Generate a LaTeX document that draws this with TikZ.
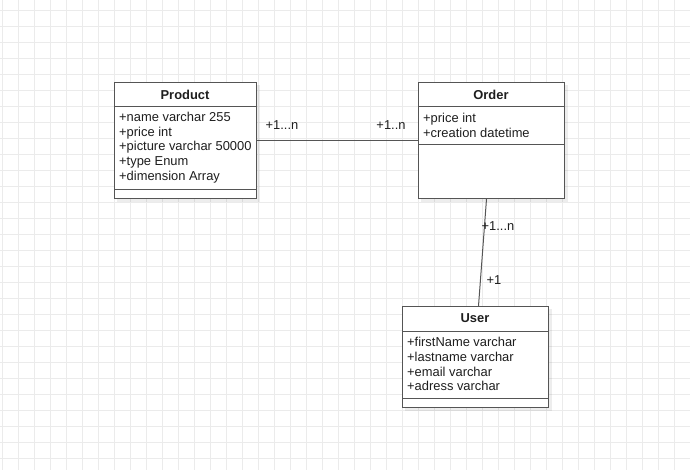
\documentclass[tikz,border=0pt]{standalone}
\usepackage{fontspec}
\setmainfont{Liberation Sans}
\usetikzlibrary{calc}

\definecolor{gridgray}{RGB}{235,235,235}
\definecolor{boxline}{RGB}{85,85,85}
\definecolor{inktext}{RGB}{30,30,30}

\tikzset{
	gridline/.style={draw=gridgray, line width=0.9pt},
	shadowbox/.style={fill=black, opacity=0.07},
	umlbox/.style={draw=boxline, line width=1pt, fill=white, inner sep=0pt, anchor=north west},
	umlline/.style={draw=boxline, line width=1pt},
	umltitle/.style={font=\fontsize{12.9}{14.8}\selectfont\bfseries, text=inktext, inner sep=0pt},
	umlattr/.style={font=\fontsize{12.9}{14.8}\selectfont, text=inktext, align=left, anchor=west, inner sep=0pt},
	multlabel/.style={font=\fontsize{12.9}{14.8}\selectfont, text=inktext, inner sep=0pt},
}

\begin{document}
\begin{tikzpicture}[x=1pt,y=-1pt]
	\useasboundingbox (0,0) rectangle (690,470);
	% background grid
	\foreach \gx in {2,18,...,690} \draw[gridline] (\gx,0)--(\gx,470);
	\foreach \gy in {10,26,...,470} \draw[gridline] (0,\gy)--(690,\gy);

	% shadows
	\fill[shadowbox] (117,85) rectangle (260,202);
	\fill[shadowbox] (421,85) rectangle (568,202);
	\fill[shadowbox] (405,309) rectangle (552,411);

	% Product
	\node[umlbox, minimum width=142pt, minimum height=116pt] (product) at (114,82) {};
	\draw[umlline] (114,107)--(256,107);
	\draw[umlline] (114,190)--(256,190);
	\node[umltitle] (producttitle) at (185,94.5) {Product};
	\node[umlattr] (productattr) at (119,147.5) {+name varchar 255\\+price int\\+picture varchar 50000\\+type Enum\\+dimension Array};

	% Order
	\node[umlbox, minimum width=146pt, minimum height=116pt] (order) at (418,82) {};
	\draw[umlline] (418,107)--(564,107);
	\draw[umlline] (418,145)--(564,145);
	\node[umltitle] (ordertitle) at (491,94.5) {Order};
	\node[umlattr] (orderattr) at (423,125) {+price int\\+creation datetime};

	% User
	\node[umlbox, minimum width=146pt, minimum height=101pt] (user) at (402,306) {};
	\draw[umlline] (402,331)--(548,331);
	\draw[umlline] (402,398)--(548,398);
	\node[umltitle] (usertitle) at (475,318.5) {User};
	\node[umlattr] (userattr) at (407,364) {+firstName varchar\\+lastname varchar\\+email varchar\\+adress varchar};

	% associations
	\draw[umlline] (product.east) -- (order.west);
	\draw[umlline] ([xshift=-5pt]order.south) -- ([xshift=3pt]user.north);
	\node[multlabel] (prodmult) at (282,125) {+1...n};
	\node[multlabel] (ordmultleft) at (391,125) {+1..n};
	\node[multlabel] (ordmultdown) at (498,226.5) {+1...n};
	\node[multlabel] (usermult) at (494,280) {+1};
\end{tikzpicture}
\end{document}
